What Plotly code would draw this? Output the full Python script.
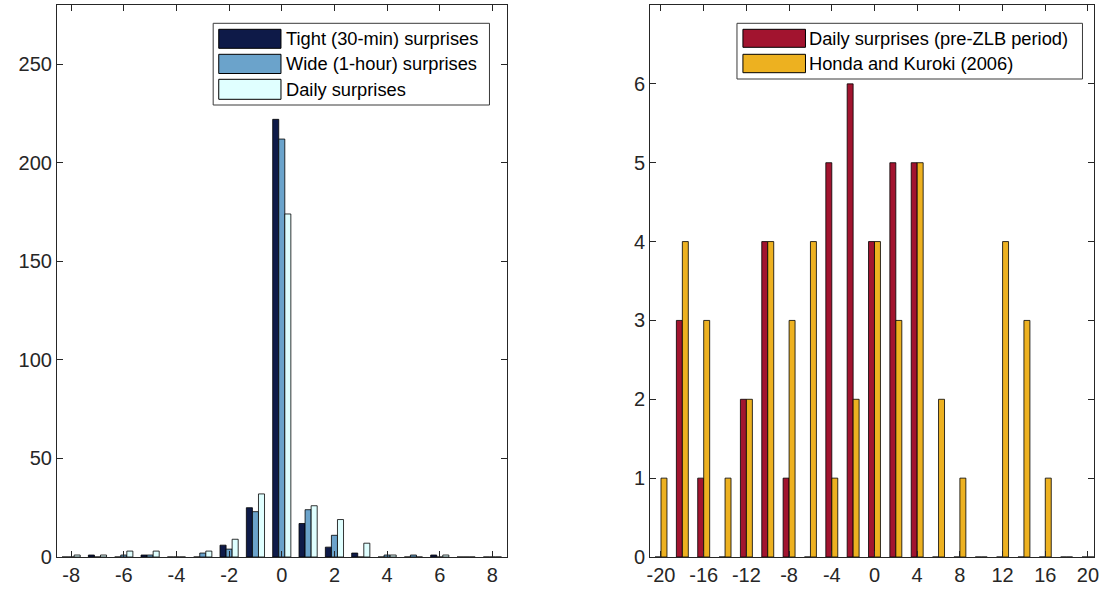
import plotly.graph_objects as go

# ---------------- data ----------------
left_x = [-8, -7, -6, -5, -4, -3, -2, -1, 0, 1, 2, 3, 4, 5, 6, 7, 8]
tight = [0, 1, 0, 1, 0, 0, 6, 25, 222, 17, 5, 2, 0, 0, 1, 0, 0]
wide = [0, 0, 1, 1, 0, 2, 4, 23, 212, 24, 11, 0, 1, 1, 0, 0, 0]
daily = [1, 1, 3, 3, 0, 3, 9, 32, 174, 26, 19, 7, 1, 0, 1, 0, 0]
left_names = ["Tight (30-min) surprises", "Wide (1-hour) surprises", "Daily surprises"]

right_x = [-20, -18, -16, -14, -12, -10, -8, -6, -4, -2, 0, 2, 4, 6, 8, 10, 12, 14, 16, 18, 20]
daily_prezlb = [0, 3, 1, 0, 2, 4, 1, 0, 5, 6, 4, 5, 5, 0, 0, 0, 0, 0, 0, 0, 0]
honda_kuroki = [1, 4, 3, 1, 2, 4, 3, 4, 1, 2, 4, 3, 5, 2, 1, 0, 4, 3, 1, 0, 0]
right_names = ["Daily surprises (pre-ZLB period)", "Honda and Kuroki (2006)"]

left_ticks_y = [0, 50, 100, 150, 200, 250]
left_ticks_x = [-8, -6, -4, -2, 0, 2, 4, 6, 8]
right_ticks_y = [0, 1, 2, 3, 4, 5, 6, 7]
right_ticks_x = [-20, -16, -12, -8, -4, 0, 4, 8, 12, 16, 20]

# ---------------- style ----------------
W, H = 1111, 594
MT, MB = 5, 37
FONT = "Liberation Sans, Arial, Helvetica, sans-serif"
AX = "#262626"
left_colors = ["#0e1a48", "#6ba3cb", "#e0ffff"]
right_colors = ["#a2142f", "#edb120"]

fig = go.Figure()

lw, loffs = 0.23, [-0.345, -0.115, 0.115]
for vals, name, col, off in zip([tight, wide, daily], left_names, left_colors, loffs):
    fig.add_trace(go.Bar(x=left_x, y=vals, name=name, width=lw, offset=off,
                         marker=dict(color=col, line=dict(color="#000000", width=0.8)),
                         xaxis="x", yaxis="y", showlegend=False))

rw, roffs = 0.56, [-0.56, 0.0]
for vals, name, col, off in zip([daily_prezlb, honda_kuroki], right_names, right_colors, roffs):
    fig.add_trace(go.Bar(x=right_x, y=vals, name=name, width=rw, offset=off,
                         marker=dict(color=col, line=dict(color="#000000", width=0.8)),
                         xaxis="x2", yaxis="y2", showlegend=False))

axis_common = dict(showline=True, linecolor=AX, linewidth=1, mirror="allticks",
                   ticks="inside", ticklen=6, tickcolor=AX, tickwidth=1,
                   showgrid=False, zeroline=False, tickmode="array",
                   tickfont=dict(family=FONT, size=20, color=AX))


def labels(vals):
    return [str(v) for v in vals]


fig.update_layout(
    width=W, height=H,
    margin=dict(l=0, r=0, t=MT, b=MB, pad=0),
    paper_bgcolor="white", plot_bgcolor="white",
    barmode="overlay",
    xaxis=dict(domain=[54.3 / W, 507.3 / W], range=[-8.54, 8.54],
               tickvals=left_ticks_x, ticktext=labels(left_ticks_x), anchor="y", **axis_common),
    yaxis=dict(domain=[0, 1], range=[0, 280], tickvals=left_ticks_y,
               ticktext=labels(left_ticks_y), anchor="x", **axis_common),
    xaxis2=dict(domain=[651.7 / W, 1099.3 / W], range=[-21.03, 20.6],
                tickvals=right_ticks_x, ticktext=labels(right_ticks_x), anchor="y2", **axis_common),
    yaxis2=dict(domain=[0, 1], range=[0, 7], tickvals=right_ticks_y,
                ticktext=labels(right_ticks_y), anchor="x2", **axis_common),
)

# ---------------- manual MATLAB-style legends ----------------
PH = H - MT - MB


def px(xp):
    return xp / W


def py(yp):
    return (H - MB - yp) / PH


def add_legend(box, swatch_x, rows, names, colors, text_x, fsize):
    x0, y0, x1, y1 = box
    fig.add_shape(type="rect", xref="paper", yref="paper",
                  x0=px(x0), x1=px(x1), y0=py(y1), y1=py(y0),
                  line=dict(color="#3a3a3a", width=1), fillcolor="white", layer="above")
    for (ra, rb), name, col in zip(rows, names, colors):
        fig.add_shape(type="rect", xref="paper", yref="paper",
                      x0=px(swatch_x[0]), x1=px(swatch_x[1]), y0=py(rb), y1=py(ra),
                      line=dict(color="#000000", width=1), fillcolor=col, layer="above")
        fig.add_annotation(xref="paper", yref="paper", x=px(text_x), y=py((ra + rb) / 2),
                           text=name, showarrow=False, xanchor="left", yanchor="middle",
                           font=dict(family=FONT, size=fsize, color="#000000"))


add_legend((211.7, 23.3, 490, 105), (217.3, 280),
           [(29.3, 48.3), (54.3, 73.5), (79.3, 99.3)],
           left_names, left_colors, 283.5, 18.3)
add_legend((739.3, 23.3, 1087.3, 79), (745.3, 808.3),
           [(29.3, 47.3), (54.3, 72.7)],
           right_names, right_colors, 809.5, 18.3)

fig.write_html("out.html")
